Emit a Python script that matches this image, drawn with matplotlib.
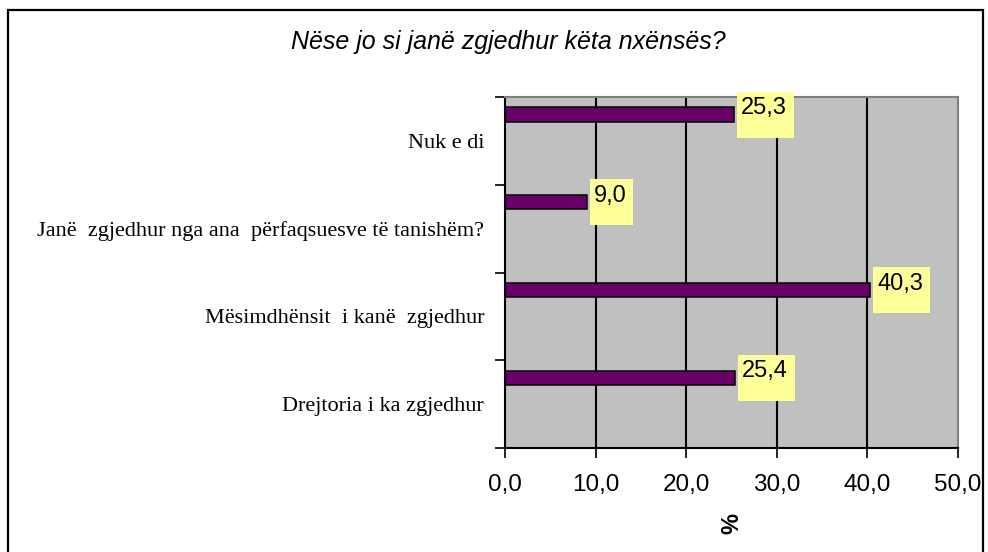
import matplotlib
matplotlib.use("Agg")
import matplotlib.pyplot as plt
from matplotlib.patches import Rectangle
from matplotlib.transforms import IdentityTransform

# ---- data ----
categories = ["Drejtoria i ka zgjedhur",
              "Mësimdhënsit  i kanë  zgjedhur",
              "Janë  zgjedhur nga ana  përfaqsuesve të tanishëm?",
              "Nuk e di"]
values = [25.4, 40.3, 9.0, 25.3]
value_labels = ["25,4", "40,3", "9,0", "25,3"]
xticks = [0, 10, 20, 30, 40, 50]
xtick_labels = ["0,0", "10,0", "20,0", "30,0", "40,0", "50,0"]
title = "Nëse jo si janë zgjedhur këta nxënsës?"
xlabel = "%"

W, H = 988, 552
fig = plt.figure(figsize=(W / 100, H / 100), dpi=100)
fig.patch.set_facecolor("white")

# outer border (bottom edge falls outside the image)
fig.add_artist(Rectangle((8 / W, -10 / H), (983 - 8) / W, (H - 10 + 10) / H, transform=fig.transFigure,
                         fill=False, edgecolor="black", linewidth=1.6, clip_on=False))

left, right, top, bottom = 505, 958, 97, 448
ax = fig.add_axes([left / W, (H - bottom) / H, (right - left) / W, (bottom - top) / H])
ax.set_facecolor("#C0C0C0")

n = len(categories)
ypos = list(range(n))
bar_off = 0.30
bar_h = 0.163
ax.barh([y + bar_off for y in ypos], values, height=bar_h, color="#660066",
        edgecolor="black", linewidth=1.1, zorder=3)

ax.set_xlim(0, 50)
ax.set_ylim(-0.5, n - 0.5)
ax.set_xticks(xticks)
ax.set_xticklabels(xtick_labels, fontfamily="Liberation Sans", fontsize=17.5)
for x in xticks[1:-1]:
    ax.axvline(x, color="black", linewidth=1.5, zorder=1)

ax.set_yticks([y - 0.5 for y in range(n + 1)])
ax.set_yticklabels([])
ax.set_yticks(ypos, minor=True)
ax.set_yticklabels(categories, minor=True, fontfamily="Liberation Serif", fontsize=16)
ax.tick_params(axis="y", which="major", direction="out", length=7, width=1.2, color="black")
ax.tick_params(axis="y", which="minor", length=0, pad=15)
ax.tick_params(axis="x", direction="out", length=7, width=1.2, pad=12)

for s in ["top", "right"]:
    ax.spines[s].set_color("#808080")
    ax.spines[s].set_linewidth(1.5)
for s in ["left", "bottom"]:
    ax.spines[s].set_color("black")
    ax.spines[s].set_linewidth(1.5)

ax.set_xlabel(xlabel, fontfamily="Liberation Sans", fontsize=17, fontweight="bold",
              rotation=90, labelpad=12)

# value labels
texts = []
for y, v, lab in zip(ypos, values, value_labels):
    t = ax.annotate(lab, xy=(v, y + bar_off), xytext=(7 * 0.72, 6.5 * 0.72),
                    textcoords="offset points", ha="left", va="center",
                    fontfamily="Liberation Sans", fontsize=17, zorder=6,
                    annotation_clip=False)
    texts.append((t, v, y))

fig.text(508 / W, 1 - 42 / H, title, ha="center", va="center",
         fontfamily="Liberation Sans", fontstyle="italic", fontsize=18)

fig.canvas.draw()
renderer = fig.canvas.get_renderer()
for t, v, y in texts:
    bb = t.get_window_extent(renderer)
    px, py = ax.transData.transform((v, y + bar_off))
    x0 = px + 3
    w = (bb.x1 - x0) + 7
    rect = Rectangle((x0, py - 23), w, 46, transform=IdentityTransform(),
                     facecolor="#FFFF99", edgecolor="none", zorder=5, clip_on=False)
    ax.add_patch(rect)

fig.savefig("out.png", dpi=100)
